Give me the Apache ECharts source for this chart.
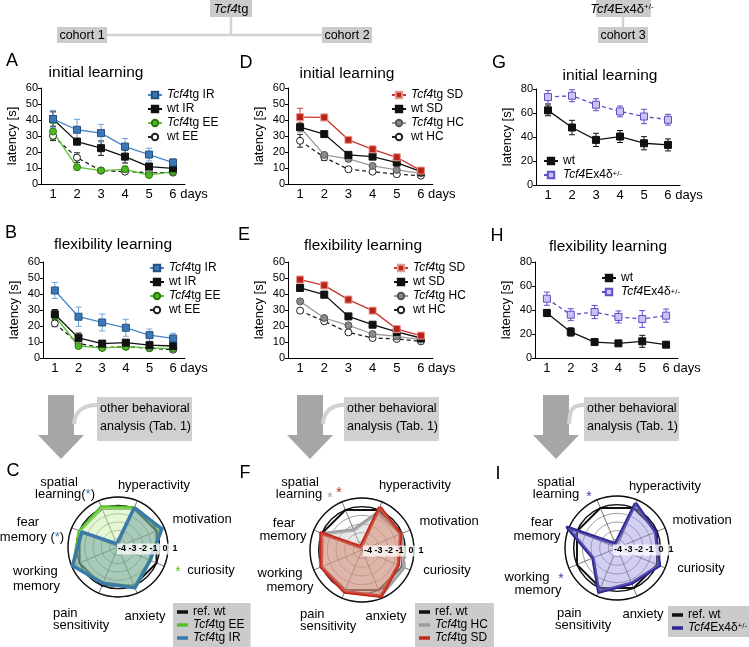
<!DOCTYPE html>
<html>
<head>
<meta charset="utf-8">
<script src="https://cdn.jsdelivr.net/npm/echarts@6/dist/echarts.min.js"></script>
<style>
  html, body { margin: 0; padding: 0; background: #fff; }
  #chart { width: 749px; height: 647px; }
</style>
</head>
<body>
<div id="chart"></div>
<script>
// days on the x axis
var days = ['1', '2', '3', '4', '5', '6'];
var dayLabels = ['1', '2', '3', '4', '5', '6 days'];

// A: initial learning, cohort 1
var aTgIR = [40.6, 33.9, 31.8, 23.4, 18.4, 13.4];
var aTgIRErr = [5.5, 6.5, 5.5, 5, 4, 2.5];
var aWtIR = [40.6, 26.5, 22.4, 17.1, 10.9, 9.8];
var aWtIRErr = [4.5, 2, 4.5, 4, 2, 1];
var aTgEE = [32.8, 10.5, 8.4, 9.2, 5.6, 7.7];
var aTgEEErr = [5, 1.5, 1, 2, 1, 1];
var aWtEE = [30.1, 16.5, 8.4, 7.7, 7.1, 7.1];
var aWtEEErr = [3, 3, 1, 1, 1, 1];

// B: flexibility learning, cohort 1
var bTgIR = [42.2, 25.8, 22.2, 18.9, 14.3, 12.2];
var bTgIRErr = [5, 6, 5.3, 5.3, 3.8, 3.3];
var bWtIR = [27.3, 12.6, 9, 9.6, 8, 7.5];
var bWtIRErr = [3, 3, 1, 1, 1, 1];
var bTgEE = [26.4, 7.5, 6.3, 7, 6.3, 5.9];
var bTgEEErr = [3, 1, 1, 1, 1, 1];
var bWtEE = [21.6, 9, 6.5, 7.1, 6.1, 5.2];
var bWtEEErr = [2, 1, 1, 1, 1, 1];

// D: initial learning, cohort 2
var dTgSD = [41.8, 41.6, 27.6, 21.7, 16.7, 8.4];
var dTgSDErr = [5.5, 2, 1.5, 1.5, 1.5, 1];
var dWtSD = [35.5, 31.2, 18.2, 17.1, 13.4, 7.7];
var dWtSDErr = [1.5, 1, 1, 1, 1, 1];
var dTgHC = [35.5, 18.2, 15.7, 11.3, 8.8, 6.7];
var dTgHCErr = [3, 1.5, 1.5, 1, 1, 1];
var dWtHC = [27, 16.7, 9.2, 7.7, 6.1, 5.2];
var dWtHCErr = [4, 2, 1, 1, 1, 1];

// E: flexibility learning, cohort 2
var eTgSD = [49, 45.4, 36.5, 29.6, 18.1, 14];
var eTgSDErr = [2, 2, 2, 1.5, 1.5, 1];
var eWtSD = [43.8, 39.6, 26, 20.8, 16.3, 12.5];
var eWtSDErr = [2, 2, 1.5, 1, 1, 1];
var eTgHC = [35.4, 25, 20.4, 15, 13.5, 11.5];
var eTgHCErr = [1.5, 1, 1, 1, 1, 1];
var eWtHC = [29.6, 22.9, 16, 12.5, 11.9, 10.4];
var eWtHCErr = [1, 1, 1, 1, 1, 1];

// G / H: cohort 3
var gMut = [73.3, 74.4, 66.9, 61.3, 57.1, 54.4];
var gMutErr = [5.5, 5, 5, 4.5, 6, 4.5];
var gWt = [62.2, 47.9, 37.6, 40.4, 34.8, 33.4];
var gWtErr = [4.5, 6, 5.5, 5, 5.5, 5];
var hMut = [49.4, 36.1, 38.3, 34.2, 32.5, 35.3];
var hMutErr = [5.5, 5, 5.5, 5, 7, 5.5];
var hWt = [37.5, 21.7, 13.3, 12.2, 13.9, 11.1];
var hWtErr = [3, 3.5, 1, 1, 5, 1];

// radar plots (z-scores), counter-clockwise from hyperactivity
var radarAxes = ['hyperactivity', 'spatial learning', 'fear memory', 'working memory',
  'pain sensitivity', 'anxiety', 'curiosity', 'motivation'];
var refWt = [0, 0, 0, 0, 0, 0, 0, 0];
var cEE = [0.1, 0.2, 0, 0.8, -0.3, 0.2, -0.8, 0.6];
var cIR = [0.1, -4.6, -0.3, 0.9, -0.3, 0.3, -0.85, 0.7];
var fHC = [-0.36, -2.5, -0.1, 0.1, 0.2, 0.7, 0.25, -0.1];
var fSD = [0.36, -4.6, 0.13, 0.1, 0.24, 0.77, -0.47, -0.17];
var iMut = [0.6, -4.5, 1.2, -2, 0.5, -0.6, 0.3, -0.2];

var fam = "'Liberation Sans', Arial, sans-serif";

var legendText = {
  'Tcf4tg IR': '{i|Tcf4}tg IR', 'wt IR': 'wt IR', 'Tcf4tg EE': '{i|Tcf4}tg EE', 'wt EE': 'wt EE',
  'Tcf4tg SD': '{i|Tcf4}tg SD', 'wt SD': 'wt SD', 'Tcf4tg HC': '{i|Tcf4}tg HC', 'wt HC': 'wt HC',
  'wt': 'wt', 'Tcf4Ex4': '{i|Tcf4}Ex4δ{s|+/-}',
  'ref. wt': 'ref. wt', 'rEE': '{i|Tcf4}tg EE', 'rIR': '{i|Tcf4}tg IR',
  'rHC': '{i|Tcf4}tg HC', 'rSD': '{i|Tcf4}tg SD', 'rMut': '{i|Tcf4}Ex4δ{s|+/-}'
};
var richTxt = {
  i: { fontStyle: 'italic', fontSize: 12, fontFamily: fam, color: '#000' },
  s: { fontSize: 8, fontFamily: fam, verticalAlign: 'top', color: '#000', lineHeight: 8 }
};

// series styles
var st = {
  tgIR: { line: '#4a86c5', fill: '#3c78b8', border: '#23527f', sym: 'rect', err: '#6fa3d8' },
  wtIR: { line: '#111', fill: '#111', border: '#111', sym: 'rect', err: '#111' },
  tgEE: { line: '#5cc232', fill: '#4db81f', border: '#2c7510', sym: 'circle', err: '#5cc232' },
  wtEE: { line: '#222', fill: '#fff', border: '#222', sym: 'circle', err: '#222', dash: true },
  tgSD: { line: '#c9352a', fill: '#b8231a', border: '#e79a92', sym: 'rect', err: '#d0483c' },
  wtSD: { line: '#111', fill: '#111', border: '#111', sym: 'rect', err: '#111' },
  tgHC: { line: '#9a9a9a', fill: '#8a8a8a', border: '#555', sym: 'circle', err: '#8a8a8a' },
  wtHC: { line: '#222', fill: '#fff', border: '#222', sym: 'circle', err: '#222', dash: true },
  mut: { line: '#5b50c6', fill: '#c9c2f2', border: '#5b50c6', sym: 'rect', err: '#5b50c6', dash: true },
  wt: { line: '#111', fill: '#111', border: '#111', sym: 'rect', err: '#111' }
};

function errRender(params, api) {
  var lo = api.coord([api.value(0), api.value(1)]);
  var hi = api.coord([api.value(0), api.value(2)]);
  var w = 3;
  var s = { stroke: api.visual('color'), lineWidth: 1 };
  return {
    type: 'group',
    children: [
      { type: 'line', shape: { x1: hi[0], y1: hi[1], x2: lo[0], y2: lo[1] }, style: s },
      { type: 'line', shape: { x1: hi[0] - w, y1: hi[1], x2: hi[0] + w, y2: hi[1] }, style: s },
      { type: 'line', shape: { x1: lo[0] - w, y1: lo[1], x2: lo[0] + w, y2: lo[1] }, style: s }
    ]
  };
}

var series = [];
function addGroup(gi, name, vals, errs, s) {
  series.push({
    type: 'custom', xAxisIndex: gi, yAxisIndex: gi, silent: true, z: 2,
    renderItem: errRender, itemStyle: { color: s.err },
    encode: { x: 0, y: [1, 2] },
    data: vals.map(function (v, i) { return [i, v - errs[i], v + errs[i]]; })
  });
  series.push({
    type: 'line', name: name, xAxisIndex: gi, yAxisIndex: gi, z: 3,
    data: vals, symbol: s.sym, symbolSize: 7,
    lineStyle: { color: s.line, width: 1.3, type: s.dash ? [4, 3] : 'solid' },
    itemStyle: { color: s.fill, borderColor: s.border, borderWidth: 1 }
  });
}
addGroup(0, 'wt EE', aWtEE, aWtEEErr, st.wtEE);
addGroup(0, 'Tcf4tg EE', aTgEE, aTgEEErr, st.tgEE);
addGroup(0, 'wt IR', aWtIR, aWtIRErr, st.wtIR);
addGroup(0, 'Tcf4tg IR', aTgIR, aTgIRErr, st.tgIR);
addGroup(1, 'wt EE', bWtEE, bWtEEErr, st.wtEE);
addGroup(1, 'Tcf4tg EE', bTgEE, bTgEEErr, st.tgEE);
addGroup(1, 'wt IR', bWtIR, bWtIRErr, st.wtIR);
addGroup(1, 'Tcf4tg IR', bTgIR, bTgIRErr, st.tgIR);
addGroup(2, 'wt HC', dWtHC, dWtHCErr, st.wtHC);
addGroup(2, 'Tcf4tg HC', dTgHC, dTgHCErr, st.tgHC);
addGroup(2, 'wt SD', dWtSD, dWtSDErr, st.wtSD);
addGroup(2, 'Tcf4tg SD', dTgSD, dTgSDErr, st.tgSD);
addGroup(3, 'wt HC', eWtHC, eWtHCErr, st.wtHC);
addGroup(3, 'Tcf4tg HC', eTgHC, eTgHCErr, st.tgHC);
addGroup(3, 'wt SD', eWtSD, eWtSDErr, st.wtSD);
addGroup(3, 'Tcf4tg SD', eTgSD, eTgSDErr, st.tgSD);
addGroup(4, 'wt', gWt, gWtErr, st.wt);
addGroup(4, 'Tcf4Ex4', gMut, gMutErr, st.mut);
addGroup(5, 'wt', hWt, hWtErr, st.wt);
addGroup(5, 'Tcf4Ex4', hMut, hMutErr, st.mut);

// radar series
function radarItem(name, vals, color, fill, width) {
  return {
    name: name, value: vals,
    lineStyle: { color: color, width: width },
    itemStyle: { color: color },
    areaStyle: fill ? { color: fill } : { opacity: 0 }
  };
}
series.push({ type: 'radar', radarIndex: 0, symbol: 'none', z: 3, data: [
  radarItem('ref. wt', refWt, '#111', null, 2),
  radarItem('rEE', cEE, '#55c02a', 'rgba(196,240,160,0.65)', 3.5),
  radarItem('rIR', cIR, '#3a78b0', 'rgba(70,130,140,0.55)', 3.5)
]});
series.push({ type: 'radar', radarIndex: 2, symbol: 'none', z: 3, data: [
  radarItem('ref. wt', refWt, '#111', null, 2),
  radarItem('rHC', fHC, '#9c9c9c', 'rgba(200,200,200,0.6)', 3.5),
  radarItem('rSD', fSD, '#c4281c', 'rgba(214,128,104,0.7)', 3.5)
]});
series.push({ type: 'radar', radarIndex: 4, symbol: 'none', z: 3, data: [
  radarItem('ref. wt', refWt, '#111', null, 2),
  radarItem('rMut', iMut, '#2e2890', 'rgba(150,140,225,0.6)', 3.5)
]});

// axes
var grids = [
  { left: 41, top: 88, width: 144, height: 96 },
  { left: 43, top: 262, width: 142, height: 96 },
  { left: 288, top: 88, width: 145, height: 96 },
  { left: 288, top: 262, width: 145, height: 96 },
  { left: 536, top: 89, width: 144, height: 96 },
  { left: 535, top: 262, width: 143, height: 96 }
];
var yMax = [60, 60, 60, 60, 80, 80];
var yInt = [10, 10, 10, 10, 20, 20];
var xAxes = [], yAxes = [];
grids.forEach(function (g, i) {
  xAxes.push({
    type: 'category', gridIndex: i, data: days, boundaryGap: true,
    axisLine: { lineStyle: { color: '#000', width: 1 } },
    axisTick: { alignWithLabel: true, length: 3, lineStyle: { color: '#000' } },
    axisLabel: {
      color: '#000', fontSize: 13, fontFamily: fam, margin: 4, interval: 0,
      formatter: function (v, idx) { return idx === 5 ? '{d|' + dayLabels[5] + '}' : dayLabels[idx]; },
      rich: { d: { fontSize: 13, fontFamily: fam, color: '#000', padding: [0, 0, 0, 31] } }
    }
  });
  yAxes.push({
    type: 'value', gridIndex: i, min: 0, max: yMax[i], interval: yInt[i],
    name: 'latency [s]', nameLocation: 'middle', nameGap: 22,
    nameTextStyle: { fontSize: 13, fontFamily: fam, color: '#000' },
    axisLine: { show: true, lineStyle: { color: '#000', width: 1 } },
    axisTick: { show: true, length: 3, lineStyle: { color: '#000' } },
    axisLabel: { fontSize: 11, fontFamily: fam, color: '#000', margin: 3 },
    splitLine: { show: false }
  });
});

// radar components (thin grid + thick outer rings)
var radarDefs = [[118, 547, 50], [362, 550, 52], [617, 548, 52]];
var radars = [];
radarDefs.forEach(function (r) {
  var ind = radarAxes.map(function (n) { return { name: n, min: -5, max: 1 }; });
  radars.push({
    center: [r[0], r[1]], radius: r[2], startAngle: 67.5, shape: 'circle', splitNumber: 6,
    indicator: ind, axisName: { show: false },
    axisLine: { lineStyle: { color: '#5e5650', width: 0.8 } },
    splitLine: { lineStyle: { color: '#8a8a8a', width: 0.8 } },
    splitArea: { show: false }
  });
  radars.push({
    center: [r[0], r[1]], radius: r[2], startAngle: 67.5, shape: 'circle', splitNumber: 6,
    indicator: ind, axisName: { show: false }, axisLine: { show: false }, z: 1,
    splitLine: { lineStyle: { width: 1.4, color: ['rgba(0,0,0,0)', 'rgba(0,0,0,0)', 'rgba(0,0,0,0)',
      'rgba(0,0,0,0)', 'rgba(0,0,0,0)', '#111', '#111'] } },
    splitArea: { show: false }
  });
});

function fmt(name) { return legendText[name] || name; }
function lineLegend(names, left, top, rowH) {
  return {
    data: names, left: left, top: top, orient: 'vertical', selectedMode: false,
    itemWidth: 14, itemHeight: 8, itemGap: 2, padding: 0,
    textStyle: { fontSize: 12, fontFamily: fam, color: '#000', lineHeight: rowH - 2, rich: richTxt },
    formatter: fmt
  };
}
function radarLegend(names, left, top) {
  return {
    data: names, left: left, top: top, orient: 'vertical', selectedMode: false,
    backgroundColor: '#cbcbcb', padding: [3, 6, 3, 4], icon: 'rect',
    itemWidth: 11, itemHeight: 3.5, itemGap: 1,
    textStyle: { fontSize: 12, fontFamily: fam, color: '#000', lineHeight: 12, rich: richTxt },
    formatter: fmt
  };
}
var legends = [
  lineLegend(['Tcf4tg IR', 'wt IR', 'Tcf4tg EE', 'wt EE'], 147, 89, 14),
  lineLegend(['Tcf4tg IR', 'wt IR', 'Tcf4tg EE', 'wt EE'], 149, 262, 14),
  lineLegend(['Tcf4tg SD', 'wt SD', 'Tcf4tg HC', 'wt HC'], 391, 89, 14),
  lineLegend(['Tcf4tg SD', 'wt SD', 'Tcf4tg HC', 'wt HC'], 393, 262, 14),
  lineLegend(['wt', 'Tcf4Ex4'], 543, 155, 13),
  lineLegend(['wt', 'Tcf4Ex4'], 601, 272, 11),
  radarLegend(['ref. wt', 'rEE', 'rIR'], 173, 603),
  radarLegend(['ref. wt', 'rHC', 'rSD'], 415, 603),
  radarLegend(['ref. wt', 'rMut'], 668, 606)
];

// graphic helpers
function txt(text, x, y, size, align, rich, color) {
  return {
    type: 'text', x: x, y: y, silent: true,
    style: {
      text: text, fontSize: size, fontFamily: fam, fill: color || '#000',
      align: align || 'center', verticalAlign: 'middle',
      textAlign: align || 'center', textVerticalAlign: 'middle', rich: rich
    }
  };
}
function box(x, y, w, h, color) {
  return { type: 'rect', shape: { x: x, y: y, width: w, height: h }, style: { fill: color || '#cbcbcb' }, silent: true };
}
function seg(x1, y1, x2, y2) {
  return { type: 'line', shape: { x1: x1, y1: y1, x2: x2, y2: y2 }, style: { stroke: '#d2d2d2', lineWidth: 2.5 }, silent: true };
}
var hRich = { i: { fontStyle: 'italic', fontSize: 13, fontFamily: fam }, s: { fontSize: 8, fontFamily: fam, verticalAlign: 'top', lineHeight: 8 } };

var graphics = [
  seg(107, 35, 322, 35), seg(231, 17, 231, 35), seg(623, 17, 623, 27),
  box(210, 0, 42, 17), txt('{i|Tcf4}tg', 231, 9, 13, 'center', hRich),
  box(57, 27, 50, 16), txt('cohort 1', 82, 35.5, 12.5),
  box(322, 27, 50, 16), txt('cohort 2', 347, 35.5, 12.5),
  box(596, 0, 55, 17), txt('{i|Tcf4}Ex4δ{s|+/-}', 622, 9, 13, 'center', hRich),
  box(598, 27, 50, 16), txt('cohort 3', 623, 35.5, 12.5),
  // panel letters
  txt('A', 12, 61, 18), txt('D', 246, 63, 18), txt('G', 499, 63, 18),
  txt('B', 11, 233, 18), txt('E', 244, 235, 18), txt('H', 497, 236, 18),
  txt('C', 13, 471, 18), txt('F', 245, 473, 18), txt('I', 498, 474, 18),
  // titles
  txt('initial learning', 96, 73, 15.5), txt('initial learning', 347, 74, 15.5), txt('initial learning', 610, 76, 15.5),
  txt('flexibility learning', 113, 245, 15.5), txt('flexibility learning', 363, 246, 15.5), txt('flexibility learning', 608, 247, 15.5)
];

// arrows with "other behavioral analysis" boxes
[[61, 97], [310, 344], [556, 584]].forEach(function (a) {
  var c = a[0], bx = a[1];
  graphics.push({ type: 'polygon', silent: true, style: { fill: '#a6a6a6' },
    shape: { points: [[c - 13, 395], [c + 13, 395], [c + 13, 435], [c + 23, 435], [c, 459], [c - 23, 435], [c - 13, 435]] } });
  graphics.push({ type: 'bezierCurve', silent: true, style: { stroke: '#d2d2d2', lineWidth: 4, fill: 'none' },
    shape: { x1: bx, y1: 405, cpx1: bx - 14, cpy1: 405, cpx2: c + 14, cpy2: 412, x2: c + 13, y2: 424 } });
  graphics.push(box(bx, 397, 95, 44, '#d0d0d0'));
  graphics.push(txt('other behavioral', bx + 3, 409, 12.5, 'left'));
  graphics.push(txt('analysis (Tab. 1)', bx + 3, 427, 12.5, 'left'));
});

// radar axis labels
var ast = function (col) { return { fontSize: 13, fontFamily: fam, fill: col, color: col }; };
var cRich = { b: ast('#3a78b0') };
[
  ['spatial', 59, 482], ['learning({b|*})', 65, 494], ['hyperactivity', 154, 485], ['motivation', 202, 519],
  ['curiosity', 211, 570], ['anxiety', 145, 616], ['fear', 28, 522], ['memory ({b|*})', 32, 537],
  ['spatial', 300, 482], ['learning', 299, 494], ['hyperactivity', 415, 485], ['motivation', 449, 521],
  ['curiosity', 447, 570], ['anxiety', 386, 616], ['working', 280, 573], ['memory', 290, 587],
  ['fear', 284, 523], ['memory', 283, 536],
  ['spatial', 556, 482], ['learning', 556, 494], ['hyperactivity', 665, 486], ['motivation', 702, 520],
  ['curiosity', 701, 568], ['anxiety', 643, 614], ['working', 527, 577], ['memory', 538, 590],
  ['fear', 542, 522], ['memory', 537, 536]
].forEach(function (l) { graphics.push(txt(l[0], l[1], l[2], 13, 'center', cRich)); });
[
  ['working', 13, 571], ['memory', 13, 586], ['pain', 53, 613], ['sensitivity', 53, 625],
  ['pain', 300, 614], ['sensitivity', 300, 626], ['pain', 557, 613], ['sensitivity', 555, 625]
].forEach(function (l) { graphics.push(txt(l[0], l[1], l[2], 13, 'left')); });
graphics.push(txt('*', 178, 572, 14, 'center', null, '#55c02a'));
graphics.push(txt('*', 330, 498, 14, 'center', null, '#9c9c9c'));
graphics.push(txt('*', 339, 493, 14, 'center', null, '#c4281c'));
graphics.push(txt('*', 589, 497, 14, 'center', null, '#4a40a8'));
graphics.push(txt('*', 561, 579, 14, 'center', null, '#4a40a8'));

// radar scale numbers
[[117, 549], [363, 551], [613, 550]].forEach(function (p) {
  graphics.push({ type: 'text', x: p[0], y: p[1], silent: true, z: 100,
    style: { text: '-4 -3 -2 -1  0  1', fontSize: 9, fontWeight: 'bold', fontFamily: fam, fill: '#000',
      align: 'left', verticalAlign: 'middle', textAlign: 'left', textVerticalAlign: 'middle',
      backgroundColor: 'rgba(255,255,255,0.75)', padding: [1, 1, 1, 1] } });
});

var chart = echarts.init(document.getElementById('chart'));
chart.setOption({
  backgroundColor: '#fff',
  animation: false,
  textStyle: { fontFamily: fam },
  grid: grids,
  xAxis: xAxes,
  yAxis: yAxes,
  radar: radars,
  legend: legends,
  series: series,
  graphic: { elements: graphics }
});
</script>
</body>
</html>
